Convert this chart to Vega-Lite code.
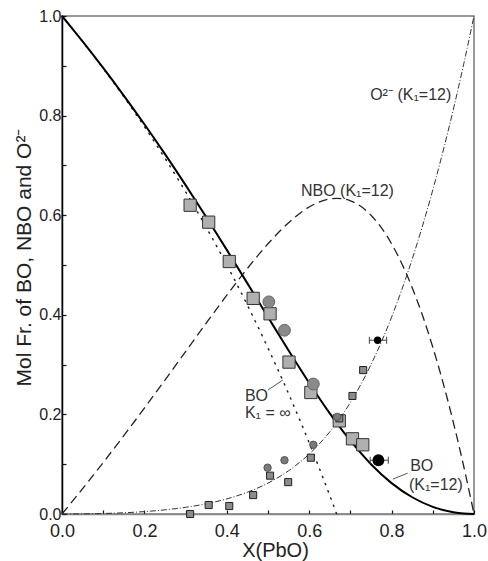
{
  "$schema": "https://vega.github.io/schema/vega-lite/v6.json",
  "width": 412,
  "height": 498,
  "autosize": {"type": "none"},
  "padding": {"left": 62, "top": 16, "right": 14, "bottom": 47},
  "config": {
    "font": "Liberation Sans",
    "view": {"stroke": "#777", "strokeWidth": 1.5},
    "axis": {
      "grid": false,
      "labelFont": "Liberation Sans",
      "labelFontSize": 18,
      "labelColor": "#222",
      "titleFont": "Liberation Sans",
      "titleFontSize": 20,
      "titleFontWeight": "normal",
      "titleColor": "#222",
      "tickColor": "#111",
      "tickSize": -4,
      "tickWidth": 1.2,
      "labelPadding": 4,
      "labelFlush": false,
      "labelOverlap": false
    }
  },
  "datasets": {
    "k12": [
      {"x": 0, "bo": 1, "nbo": 0, "o2": 0},
      {"x": 0.025, "bo": 0.97474, "nbo": 0.02521, "o2": 0.00005},
      {"x": 0.05, "bo": 0.9490, "nbo": 0.0508, "o2": 0.00023},
      {"x": 0.1, "bo": 0.89573, "nbo": 0.10328, "o2": 0.00099},
      {"x": 0.15, "bo": 0.84029, "nbo": 0.15726, "o2": 0.00245},
      {"x": 0.2, "bo": 0.78259, "nbo": 0.2126, "o2": 0.00481},
      {"x": 0.25, "bo": 0.72263, "nbo": 0.26902, "o2": 0.00835},
      {"x": 0.3, "bo": 0.66048, "nbo": 0.32611, "o2": 0.01342},
      {"x": 0.35, "bo": 0.59628, "nbo": 0.3832, "o2": 0.02052},
      {"x": 0.4, "bo": 0.53033, "nbo": 0.43934, "o2": 0.03033},
      {"x": 0.45, "bo": 0.46311, "nbo": 0.49313, "o2": 0.04376},
      {"x": 0.5, "bo": 0.39538, "nbo": 0.54257, "o2": 0.06205},
      {"x": 0.55, "bo": 0.32824, "nbo": 0.58491, "o2": 0.08686},
      {"x": 0.6, "bo": 0.26319, "nbo": 0.61648, "o2": 0.12033},
      {"x": 0.65, "bo": 0.20212, "nbo": 0.63279, "o2": 0.16509},
      {"x": 0.6667, "bo": 0.18301, "nbo": 0.63397, "o2": 0.18301},
      {"x": 0.7, "bo": 0.14711, "nbo": 0.62887, "o2": 0.22403},
      {"x": 0.75, "bo": 0.1, "nbo": 0.6, "o2": 0.3},
      {"x": 0.8, "bo": 0.06205, "nbo": 0.54257, "o2": 0.39538},
      {"x": 0.85, "bo": 0.03363, "nbo": 0.45448, "o2": 0.51189},
      {"x": 0.9, "bo": 0.01436, "nbo": 0.33491, "o2": 0.65073},
      {"x": 0.95, "bo": 0.00345, "nbo": 0.18357, "o2": 0.81298},
      {"x": 0.975, "bo": 0.00085, "nbo": 0.09587, "o2": 0.90329},
      {"x": 1, "bo": 0, "nbo": 0, "o2": 1}
    ],
    "kinf": [
      {"x": 0, "bo": 1},
      {"x": 0.05, "bo": 0.9487},
      {"x": 0.1, "bo": 0.8947},
      {"x": 0.15, "bo": 0.8378},
      {"x": 0.2, "bo": 0.7778},
      {"x": 0.25, "bo": 0.7143},
      {"x": 0.3, "bo": 0.6471},
      {"x": 0.35, "bo": 0.5758},
      {"x": 0.4, "bo": 0.5},
      {"x": 0.45, "bo": 0.4194},
      {"x": 0.5, "bo": 0.3333},
      {"x": 0.55, "bo": 0.2414},
      {"x": 0.6, "bo": 0.1429},
      {"x": 0.65, "bo": 0.037},
      {"x": 0.6667, "bo": 0}
    ],
    "points": [
      {"series": "bigsq", "x": 0.311, "y": 0.62},
      {"series": "bigsq", "x": 0.356, "y": 0.586},
      {"series": "bigsq", "x": 0.406, "y": 0.507},
      {"series": "bigsq", "x": 0.464, "y": 0.433},
      {"series": "bigsq", "x": 0.505, "y": 0.402},
      {"series": "bigsq", "x": 0.551, "y": 0.305},
      {"series": "bigsq", "x": 0.604, "y": 0.244},
      {"series": "bigsq", "x": 0.673, "y": 0.187},
      {"series": "bigsq", "x": 0.705, "y": 0.151},
      {"series": "bigsq", "x": 0.73, "y": 0.139},
      {"series": "bigcirc", "x": 0.502, "y": 0.426},
      {"series": "bigcirc", "x": 0.54, "y": 0.369},
      {"series": "bigcirc", "x": 0.61, "y": 0.261},
      {"series": "smallcirc", "x": 0.668, "y": 0.195},
      {"series": "smallcirc", "x": 0.499, "y": 0.093},
      {"series": "smallcirc", "x": 0.54, "y": 0.108},
      {"series": "smallcirc", "x": 0.61, "y": 0.139},
      {"series": "smallsq", "x": 0.311, "y": 0.0},
      {"series": "smallsq", "x": 0.356, "y": 0.018},
      {"series": "smallsq", "x": 0.406, "y": 0.016},
      {"series": "smallsq", "x": 0.464, "y": 0.038},
      {"series": "smallsq", "x": 0.505, "y": 0.077},
      {"series": "smallsq", "x": 0.549, "y": 0.064},
      {"series": "smallsq", "x": 0.604, "y": 0.113},
      {"series": "smallsq", "x": 0.673, "y": 0.192},
      {"series": "smallsq", "x": 0.705, "y": 0.237},
      {"series": "smallsq", "x": 0.731, "y": 0.289},
      {"series": "blacksmall", "x": 0.766, "y": 0.349},
      {"series": "blackbig", "x": 0.768, "y": 0.108}
    ],
    "errors": [
      {"y": 0.349, "xlo": 0.746, "xhi": 0.788},
      {"y": 0.108, "xlo": 0.748, "xhi": 0.792}
    ],
    "leaders": [
      {"x": 0.5, "y": 0.249, "x2": 0.536, "y2": 0.269},
      {"x": 0.803, "y": 0.07, "x2": 0.839, "y2": 0.082}
    ],
    "labels": [
      {"x": 0.748, "y": 0.841, "text": "O²⁻ (K₁=12)"},
      {"x": 0.58, "y": 0.649, "text": "NBO (K₁=12)"},
      {"x": 0.444, "y": 0.237, "text": "BO"},
      {"x": 0.444, "y": 0.203, "text": "K₁ = ∞"},
      {"x": 0.845, "y": 0.096, "text": "BO"},
      {"x": 0.842, "y": 0.058, "text": "(K₁=12)"}
    ]
  },
  "layer": [
    {
      "data": {"name": "kinf"},
      "mark": {"type": "line", "color": "#222", "strokeWidth": 1.5, "strokeDash": [1.2, 6.5], "strokeCap": "round", "interpolate": "monotone"},
      "encoding": {
        "x": {"field": "x", "type": "quantitative", "scale": {"domain": [0, 1], "nice": false},
          "axis": {"title": "X(PbO)", "values": [0, 0.1, 0.2, 0.3, 0.4, 0.5, 0.6, 0.7, 0.8, 0.9, 1], "format": ".1f",
            "labelExpr": "indexof(['0.0','0.2','0.4','0.6','0.8','1.0'], datum.label) >= 0 ? datum.label : ''",
            "labelPadding": 12, "labelFontSize": 18,
            "domainColor": "#888", "domainWidth": 1.5, "titleX": 213, "titleY": 36, "titleFontSize": 20, "titleBaseline": "middle", "titleAlign": "center"}},
        "y": {"field": "bo", "type": "quantitative", "scale": {"domain": [0, 1], "nice": false},
          "axis": {"title": "Mol Fr. of BO, NBO and O²⁻", "values": [0, 0.1, 0.2, 0.3, 0.4, 0.5, 0.6, 0.7, 0.8, 0.9, 1], "format": ".1f",
            "labelExpr": "indexof(['0.0','0.2','0.4','0.6','0.8','1.0'], datum.label) >= 0 ? datum.label : ''",
            "labelPadding": 5, "labelFontSize": 16,
            "domainColor": "#000", "domainWidth": 1.5, "titleX": -38, "titleY": 241, "titleFontSize": 21, "titleBaseline": "middle", "titleAlign": "center", "titleAngle": -90}}
      }
    },
    {
      "data": {"name": "k12"},
      "mark": {"type": "line", "color": "#222", "strokeWidth": 1.3, "strokeDash": [9, 5], "interpolate": "monotone"},
      "encoding": {
        "x": {"field": "x", "type": "quantitative"},
        "y": {"field": "nbo", "type": "quantitative"}
      }
    },
    {
      "data": {"name": "k12"},
      "mark": {"type": "line", "color": "#333", "strokeWidth": 1, "strokeDash": [6, 2, 1, 2], "interpolate": "monotone"},
      "encoding": {
        "x": {"field": "x", "type": "quantitative"},
        "y": {"field": "o2", "type": "quantitative"}
      }
    },
    {
      "data": {"name": "k12"},
      "mark": {"type": "line", "color": "#000", "strokeWidth": 2, "interpolate": "monotone"},
      "encoding": {
        "x": {"field": "x", "type": "quantitative"},
        "y": {"field": "bo", "type": "quantitative"}
      }
    },
    {
      "data": {"name": "leaders"},
      "mark": {"type": "rule", "color": "#555", "strokeWidth": 1},
      "encoding": {
        "x": {"field": "x", "type": "quantitative"},
        "y": {"field": "y", "type": "quantitative"},
        "x2": {"field": "x2"},
        "y2": {"field": "y2"}
      }
    },
    {
      "data": {"name": "points"},
      "transform": [{"filter": "datum.series == 'bigsq'"}],
      "mark": {"type": "point", "shape": "square", "filled": true, "fill": "#b0b0b0", "stroke": "#333", "strokeWidth": 1, "size": 150, "opacity": 1},
      "encoding": {
        "x": {"field": "x", "type": "quantitative"},
        "y": {"field": "y", "type": "quantitative"}
      }
    },
    {
      "data": {"name": "points"},
      "transform": [{"filter": "datum.series == 'bigcirc'"}],
      "mark": {"type": "point", "shape": "circle", "filled": true, "fill": "#8a8a8a", "stroke": "#666", "strokeWidth": 1, "size": 140, "opacity": 1},
      "encoding": {
        "x": {"field": "x", "type": "quantitative"},
        "y": {"field": "y", "type": "quantitative"}
      }
    },
    {
      "data": {"name": "points"},
      "transform": [{"filter": "datum.series == 'smallsq'"}],
      "mark": {"type": "point", "shape": "square", "filled": true, "fill": "#8c8c8c", "stroke": "#222", "strokeWidth": 1, "size": 50, "opacity": 1},
      "encoding": {
        "x": {"field": "x", "type": "quantitative"},
        "y": {"field": "y", "type": "quantitative"}
      }
    },
    {
      "data": {"name": "points"},
      "transform": [{"filter": "datum.series == 'smallcirc'"}],
      "mark": {"type": "point", "shape": "circle", "filled": true, "fill": "#7a7a7a", "stroke": "#555", "strokeWidth": 1, "size": 55, "opacity": 1},
      "encoding": {
        "x": {"field": "x", "type": "quantitative"},
        "y": {"field": "y", "type": "quantitative"}
      }
    },
    {
      "data": {"name": "errors"},
      "mark": {"type": "rule", "color": "#444", "strokeWidth": 1},
      "encoding": {
        "x": {"field": "xlo", "type": "quantitative"},
        "x2": {"field": "xhi"},
        "y": {"field": "y", "type": "quantitative"}
      }
    },
    {
      "data": {"name": "errors"},
      "mark": {"type": "tick", "orient": "vertical", "color": "#444", "thickness": 1, "size": 7, "opacity": 1},
      "encoding": {
        "x": {"field": "xlo", "type": "quantitative"},
        "y": {"field": "y", "type": "quantitative"}
      }
    },
    {
      "data": {"name": "errors"},
      "mark": {"type": "tick", "orient": "vertical", "color": "#444", "thickness": 1, "size": 7, "opacity": 1},
      "encoding": {
        "x": {"field": "xhi", "type": "quantitative"},
        "y": {"field": "y", "type": "quantitative"}
      }
    },
    {
      "data": {"name": "points"},
      "transform": [{"filter": "datum.series == 'blacksmall'"}],
      "mark": {"type": "point", "shape": "circle", "filled": true, "fill": "#000", "size": 55, "opacity": 1},
      "encoding": {
        "x": {"field": "x", "type": "quantitative"},
        "y": {"field": "y", "type": "quantitative"}
      }
    },
    {
      "data": {"name": "points"},
      "transform": [{"filter": "datum.series == 'blackbig'"}],
      "mark": {"type": "point", "shape": "circle", "filled": true, "fill": "#000", "size": 140, "opacity": 1},
      "encoding": {
        "x": {"field": "x", "type": "quantitative"},
        "y": {"field": "y", "type": "quantitative"}
      }
    },
    {
      "data": {"name": "labels"},
      "mark": {"type": "text", "align": "left", "baseline": "middle", "fontSize": 16, "font": "Liberation Sans", "color": "#333"},
      "encoding": {
        "x": {"field": "x", "type": "quantitative"},
        "y": {"field": "y", "type": "quantitative"},
        "text": {"field": "text"}
      }
    }
  ]
}
